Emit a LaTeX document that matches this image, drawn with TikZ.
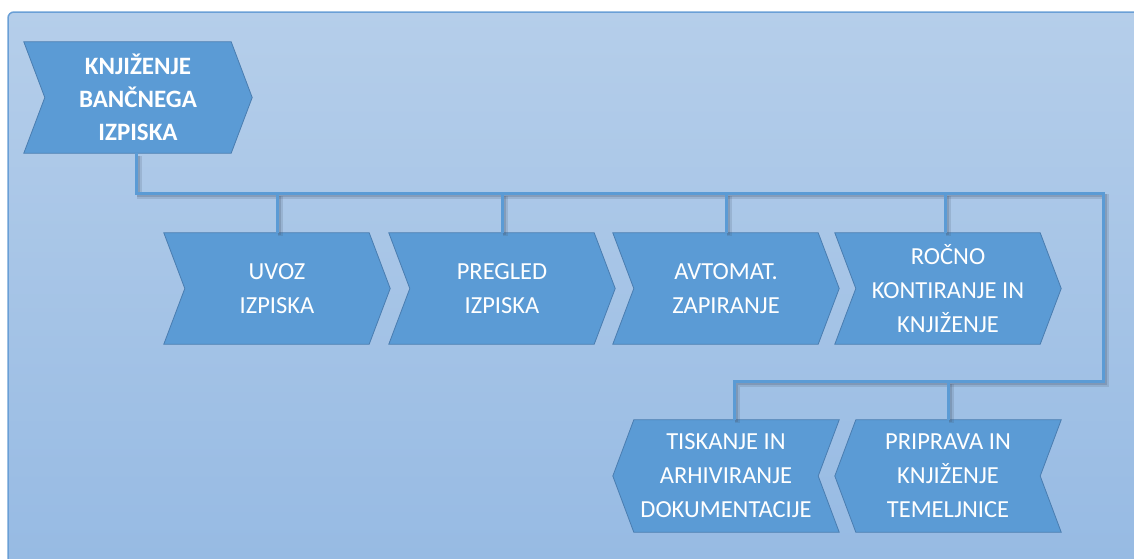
\documentclass[tikz,border=0pt]{standalone}
\usepackage{fontspec}
\setmainfont{Carlito}
\usetikzlibrary{backgrounds}
\definecolor{panelTop}{HTML}{B5CEEA}
\definecolor{panelBot}{HTML}{96BAE3}
\definecolor{panelEdge}{HTML}{6A9FD6}
\definecolor{chevFill}{HTML}{5B9BD5}
\definecolor{chevEdge}{HTML}{4A7DB0}
\definecolor{linkc}{HTML}{5B9BD5}
\definecolor{shadowc}{HTML}{4A5A70}

% chevron pointing right / left, drawn behind a named node
\newcommand\chevronE[1]{\path[chevshape] (#1.north west) -- ([xshift=-21pt]#1.north east) -- (#1.east) -- ([xshift=-21pt]#1.south east) -- (#1.south west) -- ([xshift=21pt]#1.west) -- cycle;}
\newcommand\chevronW[1]{\path[chevshape] (#1.north east) -- ([xshift=21pt]#1.north west) -- (#1.west) -- ([xshift=21pt]#1.south west) -- (#1.south east) -- ([xshift=-21pt]#1.east) -- cycle;}

\tikzset{
  stage/.style={minimum width=226pt, minimum height=111pt, inner sep=0pt,
    text=white, align=center, font=\fontsize{24.5}{34}\selectfont},
  headstage/.style={stage, minimum width=228pt, font=\bfseries\fontsize{25}{33}\selectfont},
  chevshape/.style={fill=chevFill, draw=chevEdge, line width=0.8pt, line join=miter},
  conn/.style={draw=linkc, line width=3pt,
    preaction={draw=shadowc, line width=5pt, draw opacity=0.18,
      transform canvas={xshift=3pt,yshift=-3pt}},
    preaction={draw=shadowc, line width=3pt, draw opacity=0.25,
      transform canvas={xshift=2.5pt,yshift=-2.5pt}}},
}

\begin{document}
\begin{tikzpicture}[x=1pt,y=-1pt]
\useasboundingbox (0,0) rectangle (1134,558);

% backdrop panel
\begin{pgfonlayer}{background}
\path[top color=panelTop, bottom color=panelBot, draw=panelEdge, line width=1.5pt,
  rounded corners=6pt] (8,12) rectangle (1150,575);
\end{pgfonlayer}

% head
\node[headstage] (head) at (138,97.5) {KNJIŽENJE\\BANČNEGA\\IZPISKA};

% first row
\node[stage] (uvoz) at (277,288.5) {UVOZ\\IZPISKA};
\node[stage] (pregled) at (502,288.5) {PREGLED\\IZPISKA};
\node[stage] (avtomat) at (726,288.5) {AVTOMAT.\\ZAPIRANJE};
\node[stage] (rocno) at (948,288.5) {ROČNO\\KONTIRANJE IN\\KNJIŽENJE};

% second row
\node[stage, minimum height=112pt] (tisk) at (726,476) {TISKANJE IN\\ARHIVIRANJE\\DOKUMENTACIJE};
\node[stage, minimum height=112pt] (priprava) at (948,476) {PRIPRAVA IN\\KNJIŽENJE\\TEMELJNICE};

\begin{pgfonlayer}{background}
\chevronE{head}
\chevronE{uvoz}
\chevronE{pregled}
\chevronE{avtomat}
\chevronE{rocno}
\chevronW{tisk}
\chevronW{priprava}
\end{pgfonlayer}

% connector tree
\coordinate (busA) at (1103,193);
\coordinate (busB) at (1103,381);
\coordinate (tiskIn) at ([xshift=8pt]tisk.north);
\draw[conn, line join=miter] ([xshift=-2pt]head.south) |- (busA) -- (busB) -| (tiskIn);
\draw[conn] (uvoz.north) -- (uvoz.north |- busA);
\draw[conn] (pregled.north) -- (pregled.north |- busA);
\draw[conn] (avtomat.north) -- (avtomat.north |- busA);
\draw[conn] ([xshift=-3pt]rocno.north) -- ([xshift=-3pt]rocno.north |- busA);
\draw[conn] (priprava.north) -- (priprava.north |- busB);
\end{tikzpicture}
\end{document}
